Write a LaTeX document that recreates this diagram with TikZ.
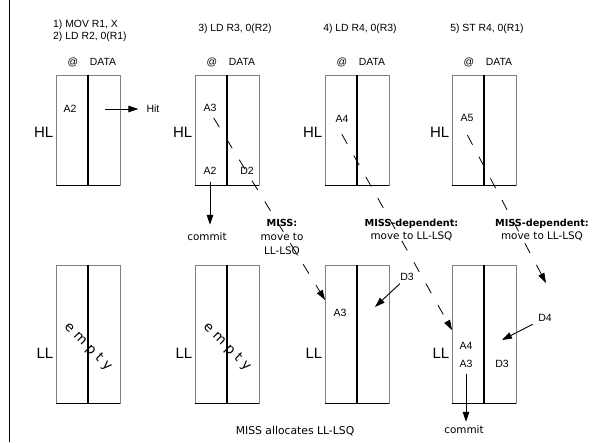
\documentclass[tikz,border=0pt]{standalone}
\usepackage{fontspec}
\setmainfont{Liberation Sans}
\newfontfamily\dvfont{DejaVu Sans}
\usetikzlibrary{arrows.meta}
\begin{document}
\begin{tikzpicture}[x=1pt,y=-1pt,
  hlbox/.style={draw=black!50, line width=0.8pt, minimum width=64pt, minimum height=110pt, inner sep=0pt},
  llbox/.style={draw=black!50, line width=0.8pt, minimum width=64pt, minimum height=138pt, inner sep=0pt},
  divider/.style={draw=black, line width=1.3pt},
  bottomedge/.style={draw=black, line width=0.8pt},
  lab/.style={font=\fontsize{10.4}{12}\selectfont, inner sep=0pt},
  cell/.style={font=\fontsize{10.5}{12}\selectfont, inner sep=0pt},
  lvl/.style={font=\fontsize{15}{17}\selectfont, inner sep=0pt, anchor=east},
  note/.style={font=\dvfont\fontsize{10.4}{13.8}\selectfont, inner sep=0pt, align=center},
  emptytext/.style={font=\dvfont\fontsize{13.5}{15}\selectfont, inner sep=0pt, rotate=-45},
  arr/.style={draw=black, line width=0.9pt, -{Triangle[length=10pt,width=6.5pt]}},
  dasharr/.style={draw=black, line width=0.8pt, dash pattern=on 11pt off 13.5pt, -{Triangle[length=10pt,width=6.5pt]}}
]
\useasboundingbox (0,0) rectangle (592,442);
\fill[white] (0,0) rectangle (592,442);
\draw[line width=0.9pt] (9,0) -- (9,442);

% instructions
\node[lab, anchor=west] (i1) at (53,25) {1) MOV R1, X};
\node[lab, anchor=west] (i2) at (53,37) {2) LD R2, 0(R1)};
\node[lab] (i3) at (235,29) {3) LD R3, 0(R2)};
\node[lab] (i4) at (360,29) {4) LD R4, 0(R3)};
\node[lab] (i5) at (487,29) {5) ST R4, 0(R1)};

% boxes
\foreach \n/\xl in {1/56,2/195,3/325,4/452}{
  \node[hlbox] (hl\n) at (\xl+32,130) {};
  \draw[bottomedge] (hl\n.south west) -- (hl\n.south east);
  \draw[divider] (hl\n.north) -- (hl\n.south);
  \node[llbox] (ll\n) at (\xl+32,334) {};
  \draw[bottomedge] (ll\n.south west) -- (ll\n.south east);
  \draw[divider] (ll\n.north) -- (ll\n.south);
  \node[lab] (at\n) at (\xl+17,62) {@};
  \node[lab] (data\n) at (\xl+47,62) {DATA};
  \node[lvl] (hll\n) at (\xl-2.5,132) {HL};
  \node[lvl] (lll\n) at (\xl-2.5,353) {LL};
}

% column 1
\node[cell] (c1a2) at (70,109) {A2};
\node[cell] (hit) at (153,109) {Hit};
\coordinate (hitS) at (105,109);
\draw[arr, shorten >=8pt] (hitS) -- (hit);
\node[emptytext] (empty1) at (88,347) {e\kern4.5pt m\kern4.5pt p\kern4.5pt t\kern4.5pt y};

% column 2
\node[cell] (c2a3) at (210,108) {A3};
\node[cell] (c2a2) at (210,171) {A2};
\node[cell] (c2d2) at (247,171) {D2};
\node[note] (commit1) at (207,237) {commit};
\draw[arr, shorten <=7pt, shorten >=8pt] (c2a2.south) -- (c2a2.south |- commit1.north);
\node[note] (miss1) at (282,237.5) {\textbf{\fontsize{9.7}{13.8}\selectfont MISS:}\\move to\\LL-LSQ};
\node[emptytext] (empty2) at (227,347) {e\kern4.5pt m\kern4.5pt p\kern4.5pt t\kern4.5pt y};

% column 3
\node[cell] (c3a4) at (342,119) {A4};
\node[note] (miss2) at (411.5,230) {\textbf{\fontsize{9.7}{13.8}\selectfont MISS-dependent:}\\move to LL-LSQ};
\node[cell] (c3a3) at (340,313) {A3};
\node[cell] (c3d3) at (407,277) {D3};
\coordinate (d3tip) at (375,307);
\draw[arr, shorten <=4pt] (c3d3) -- (d3tip);

% column 4
\node[cell] (c4a5) at (467,118) {A5};
\node[note] (miss3) at (542,230) {\textbf{\fontsize{9.7}{13.8}\selectfont MISS-dependent:}\\move to LL-LSQ};
\node[cell] (c4d4) at (545,318) {D4};
\coordinate (d4tip) at (502,340);
\draw[arr, shorten <=6pt] (c4d4) -- (d4tip);
\node[cell] (c4a4) at (466,346) {A4};
\node[cell] (c4a3) at (466,364) {A3};
\node[cell] (c4d3) at (502,364) {D3};
\node[note] (commit2) at (464,430) {commit};
\draw[arr, shorten <=6pt, shorten >=4pt] (c4a3.south) -- (c4a3.south |- commit2.north);

% dashed miss arrows
\coordinate (t2) at (325,300);
\coordinate (t3) at (452,330);
\coordinate (t4) at (546,283);
\draw[dasharr, shorten <=7pt] (c2a3.south) -- (t2);
\draw[dasharr, shorten <=13pt] (c3a4.south west) -- (t3);
\draw[dasharr, shorten <=15pt] (c4a5.south west) -- (t4);

% bottom
\node[note, font=\dvfont\fontsize{10.8}{13}\selectfont] (alloc) at (295,431) {MISS allocates LL-LSQ};
\end{tikzpicture}
\end{document}
